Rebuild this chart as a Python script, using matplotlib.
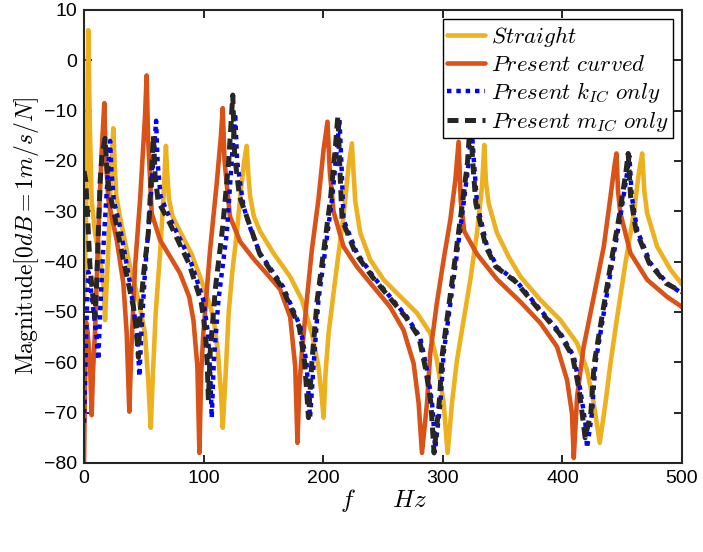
import matplotlib
matplotlib.use("Agg")
import matplotlib.pyplot as plt

# ---- data ----
f_straight = [0, 1.5, 2.8, 3.6, 5, 6.4, 9.2, 13.4, 16.2, 17.6, 18.8, 20.3, 22.3, 24.5, 25.5, 27, 30, 38.5,
              45.5, 51, 53.8, 55.8, 57.5, 60, 63.6, 66.5, 68.5, 69.5, 71, 74, 80.3, 90, 97, 103, 108.2, 112, 114.5,
              116, 118.5, 121, 124, 127.8, 131, 134, 136, 137.5, 138.9, 142, 147.3, 158.4, 172.4, 182.2, 190.5,
              196, 198.5, 200.3, 202, 204.5, 211.4, 217, 221.2, 224, 225.3, 226.8, 231, 239.3, 250.5, 264.4,
              278.4, 289.5, 295, 300.7, 304, 307.7, 311.9, 317.4, 323, 328.6, 332.8, 334.7, 336, 338.3, 345.3,
              355, 365, 381.6, 398.3, 412.3, 420.6, 426.2, 431.2, 436, 440.2, 445.8, 452.7, 459.7, 463.9,
              466.7, 468.5, 470.9, 479.2, 490.4, 500]
db_straight = [-48, -35, -12, 6, -14.5, -27.7, -34.3, -39.6, -44.3, -51.6, -45, -37.7, -24.4, -13.5, -20, -27, -31,
               -41, -47.6, -54.2, -64, -73, -63, -50, -38.3, -27, -17, -22, -27.5, -31, -34, -38.5, -43, -47, -51, -58,
               -66, -73, -62, -50, -42, -34.3, -26, -20, -17, -23, -27, -31, -34, -38.3, -43, -47.6, -54.2, -60.8,
               -66, -71, -62, -54.2, -41, -31, -21.1, -16.5, -22, -28, -34.3, -39.6, -43.6, -46.9, -50.2, -54.2,
               -59.5, -68, -78, -68, -59.5, -51.6, -43.6, -34.3, -25, -16.8, -24, -28.4, -34.3, -39, -43, -47.6,
               -51.6, -56.2, -61.5, -68.1, -76, -68.1, -60.2, -51, -40.3, -30.4, -22.4, -18.5, -26, -30.4, -37,
               -41.6, -44.5]

f_curved = [0, 0.8, 1.7, 3, 5, 6.4, 7.5, 9.2, 12, 14.8, 17, 18, 20.3, 24, 27.4, 32.9, 35.7, 37.9, 39.5, 42.7,
            46.9, 51, 52.4, 53.5, 56.6, 63.6, 72, 80.3, 88, 91.5, 94.8, 96.5, 98, 99.8, 105.4, 111, 114.5, 116,
            117.5, 122, 130.5, 142, 155, 164, 172.4, 176.6, 178.5, 180, 182.2, 186.3, 190.5, 196, 200.3, 203.6,
            205.5, 208.6, 217, 228.2, 242, 256, 267.2, 275.6, 279.8, 282.6, 286.8, 289.5, 295, 300.7, 306.3,
            310.5, 313.2, 315, 318, 328.6, 345.3, 365, 381.6, 395.5, 403.9, 408, 409.5, 412.3, 417.8, 426.2,
            434.6, 440.2, 443.5, 445.2, 446.5, 448.5, 456.9, 470.9, 487.6, 500]
db_curved = [-80, -65, -52, -54, -60, -70.5, -62, -54, -34, -18, -8.5, -18, -27.7, -32, -35.7, -44.3, -54.2, -69.8,
             -58, -41, -27.7, -11.2, -3, -15, -30.4, -35.7, -39, -42.3, -47, -51.6, -60.8, -78, -62, -54.2, -37.7,
             -24.4, -15, -9.5, -20, -31, -36, -39.5, -43, -45.5, -51, -60.8, -76, -65, -58, -47.6, -37.7, -27.7,
             -17.8, -12.2, -22, -30, -37, -41, -45, -49, -53.6, -60.2, -68.1, -78, -68.1, -58.2, -48.3, -39.6,
             -31.7, -23.8, -16.2, -28, -34, -38.5, -43.5, -48, -52.2, -56.9, -63.5, -70.1, -79, -66.8, -56.9, -47,
             -37, -27.1, -21, -18.5, -26, -30.4, -38.3, -43.6, -47, -49]

f_kic = [0, 1.5, 2.8, 3.6, 5, 8, 10.5, 12, 13.5, 15.5, 18, 20.3, 21.8, 23, 25, 30, 38.5, 43, 45, 46.3, 48, 51,
         55, 58.5, 60.3, 61.5, 64, 72, 88.7, 99.8, 103.5, 105.5, 106.8, 108.5, 112.4, 119.4, 123.5, 126.4, 128,
         133.3, 140, 147, 166.5, 180.8, 186, 189, 191.9, 196, 201.7, 207.3, 211.4, 213.6, 215.5, 217, 228.2, 242,
         256, 270, 281, 286.8, 291, 293.7, 298, 300.7, 306.3, 311.9, 317.4, 321.6, 324, 326, 328.6, 337, 345.3,
         362, 381.6, 398.3, 409.5, 415, 419.2, 420.6, 424.8, 427.6, 434.6, 441.6, 448.5, 454.1, 456, 458, 462.5,
         473.6, 487.6, 500]
db_kic = [-72, -58, -46, -42, -44, -50, -55, -59.5, -50, -40, -30, -21, -16, -22, -28, -33, -44.3, -52, -56, -62.8,
          -54, -42, -30, -18, -12, -20, -27, -31.5, -39.6, -47.6, -54, -62, -71, -60, -47.6, -34.3, -20, -10.5, -20,
          -29, -34, -38.3, -45, -52.9, -60, -71, -60.8, -47.6, -37.7, -27.7, -17.8, -11.8, -22, -31.7, -38.3, -43,
          -47, -51, -55, -61.5, -68, -77, -68, -58.2, -48.3, -38.3, -28.4, -20.4, -13, -20, -28.4, -37, -41, -44,
          -49.6, -54.2, -58.8, -65.5, -72.1, -77, -70, -60.2, -50.2, -40.3, -31, -22.4, -19, -27, -33.7, -40.3,
          -44.3, -46.3]

f_mic = [0, 1.5, 3, 5, 7, 9.2, 10.5, 12, 13.5, 15, 17.6, 19, 21, 24.5, 32.9, 41.3, 43.5, 45.5, 47, 50, 53.8,
         56.5, 58, 59.5, 62, 72, 88, 98, 101.5, 103, 104, 105.5, 110, 116, 121, 124.4, 126, 130, 136, 147, 166,
         180, 184.5, 187.7, 190.5, 195, 200.5, 206, 210, 212.3, 214, 215.8, 227, 241, 255, 269, 280, 285.8, 290,
         292.7, 297, 299.7, 305.3, 310.9, 316.4, 320.6, 323, 325, 327.6, 336, 344.3, 361, 380.6, 397.3, 408.5,
         414, 417.5, 419, 423.8, 426.6, 433.6, 440.6, 447.5, 453, 455, 457, 461.5, 472.6, 486.6, 500]
db_mic = [-22, -24, -31, -41, -46, -51, -45, -34, -24, -19, -15.5, -21, -26, -29.5, -39.6, -49, -53, -59, -50, -42,
          -34.3, -22, -15, -23, -28, -32.5, -40.5, -48, -54, -60, -67.5, -58, -45, -33, -20, -6.9, -19, -27, -31,
          -38.5, -45.3, -53, -60, -71, -60, -47.6, -37.7, -27.7, -17.8, -11, -22, -31.7, -38.3, -43, -47, -51, -55,
          -61.5, -68, -78, -68, -58.2, -48.3, -38.3, -28.4, -20.4, -12, -20, -28.4, -37, -41, -44, -49.6, -54.2,
          -58.8, -65.5, -72, -75, -70, -60.2, -50.2, -40.3, -31, -22.4, -18.5, -27, -33.7, -40.3, -44.3, -46]

labels = [r'$Straight$', r'$Present\ curved$', r'$Present\ k_{IC}\ only$', r'$Present\ m_{IC}\ only$']
x_ticks = [0, 100, 200, 300, 400, 500]
y_ticks = [-80, -70, -60, -50, -40, -30, -20, -10, 0, 10]

plt.rcParams['mathtext.fontset'] = 'cm'
plt.rcParams['font.family'] = ['Liberation Sans', 'DejaVu Sans']

fig = plt.figure(figsize=(7.03, 5.52), dpi=100)
ax = fig.add_axes([84/703, 1-463/552, 598/703, 453/552])

ax.plot(f_straight, db_straight, color='#EDB120', lw=3.3, label=labels[0],
        solid_joinstyle='round', solid_capstyle='round')
ax.plot(f_curved, db_curved, color='#D95319', lw=3.3, label=labels[1],
        solid_joinstyle='round', solid_capstyle='round')
ax.plot(f_kic, db_kic, color='#0000FF', lw=3.2, linestyle=(0, (1.0, 1.1)), label=labels[2])
ax.plot(f_mic, db_mic, color='#262626', lw=3.6, linestyle=(0, (2.2, 1.3)), label=labels[3])

ax.set_xlim(0, 500)
ax.set_ylim(-80, 10)
ax.set_xticks(x_ticks)
ax.set_yticks(y_ticks)
ax.tick_params(direction='in', top=True, right=True, length=6, width=1.2, labelsize=14, pad=5)
for s in ax.spines.values():
    s.set_linewidth(1.5)
    s.set_color('#262626')

ax.set_xlabel(r'$f\quad\;\;\; Hz$', fontsize=18, labelpad=0)
ax.set_ylabel(r'$\mathrm{Magnitude}[0dB=1m/s/N]$', fontsize=17, labelpad=2)

leg = ax.legend(loc='upper right', fontsize=16.5, frameon=True, fancybox=False, framealpha=1,
                edgecolor='black', handlelength=1.65, borderaxespad=0.4, labelspacing=0.2,
                handletextpad=0.25, borderpad=0.2)
leg.get_frame().set_linewidth(1.0)

fig.savefig('out.png', dpi=100)
